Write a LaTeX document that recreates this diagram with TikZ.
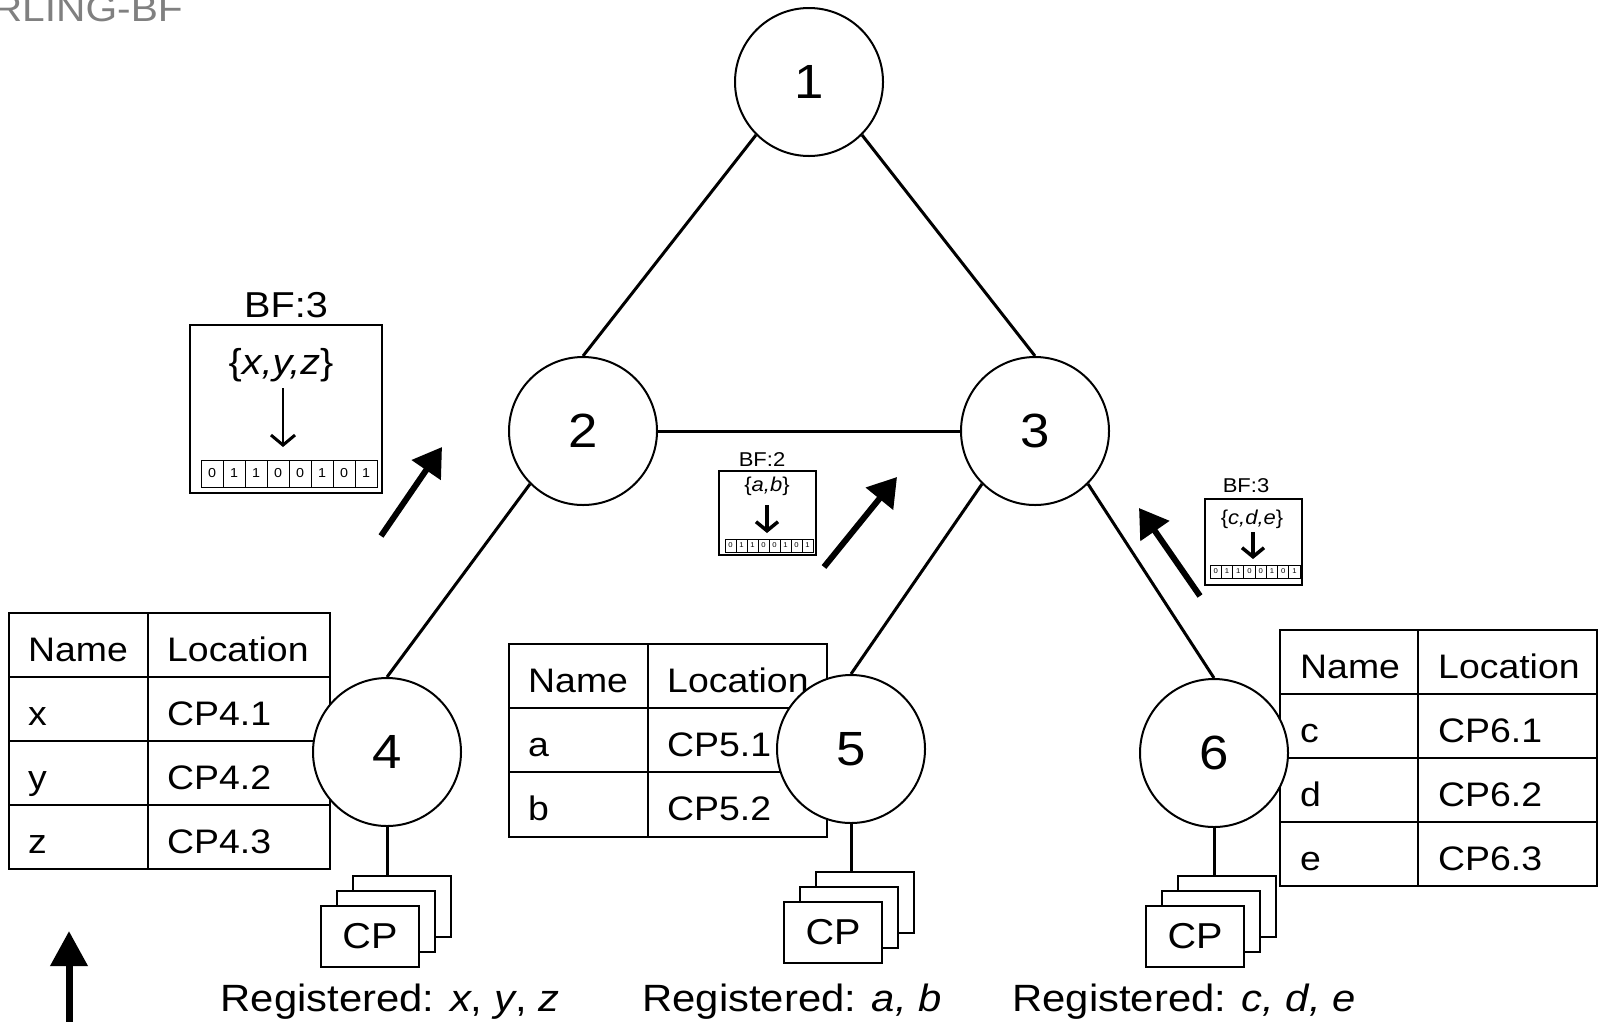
\documentclass[tikz,border=0pt]{standalone}
\usepackage{fontspec}
\setmainfont{Liberation Sans}[FakeStretch=1.1]
\usetikzlibrary{calc,arrows.meta}
\newcommand{\fs}[1]{\fontsize{#1}{#1}\selectfont}
\tikzset{
  router/.style={circle,draw,fill=white,line width=2pt,minimum size=148pt,inner sep=0pt,font=\fs{48}},
  link/.style={line width=3pt},
  tab/.style={line width=2.7pt},
  cell/.style={anchor=base west,inner sep=0pt,font=\fs{34}},
  cpbox/.style={draw,fill=white,line width=1.8pt,minimum width=98pt,minimum height=61pt,inner sep=0pt,font=\fs{36}},
  bfbox/.style={draw,fill=white,line width=2.2pt,inner sep=0pt},
  bit/.style={draw,line width=0.8pt,inner sep=0pt},
  push/.style={line width=6pt,-{Triangle[length=28pt,width=34pt]}},
  hash/.style={-{Straight Barb[length=9pt,width=22pt,line width=3.5pt]}},
}
\begin{document}
\begin{tikzpicture}[x=1pt,y=-1pt]
 \useasboundingbox (0,0) rectangle (1602,1021);
 \clip (0,0) rectangle (1602,1021);
 \node[anchor=base east,inner sep=0pt,text=black!50,font=\fs{37}] (title) at (183,21) {RLING-BF};
 %
 % name tables
 \draw[tab] (9,613) rectangle (330,869) (148,613) -- (148,869);
 \foreach \y in {677,741,805} \draw[tab] (9,\y) -- (330,\y);
 \node[cell] (t4n) at (28,661) {Name};
 \node[cell] (t4l) at (167,661) {Location};
 \foreach \nm/\loc [count=\i] in {x/CP4.1,y/CP4.2,z/CP4.3} {
   \node[cell] (t4n\i) at (28,661+64*\i) {\nm};
   \node[cell] (t4l\i) at (167,661+64*\i) {\loc};
 }
 \draw[tab] (509,644) rectangle (827,837) (648,644) -- (648,837);
 \foreach \y in {708,772} \draw[tab] (509,\y) -- (827,\y);
 \node[cell] (t5n) at (528,692) {Name};
 \node[cell] (t5l) at (667,692) {Location};
 \foreach \nm/\loc [count=\i] in {a/CP5.1,b/CP5.2} {
   \node[cell] (t5n\i) at (528,692+64*\i) {\nm};
   \node[cell] (t5l\i) at (667,692+64*\i) {\loc};
 }
 \draw[tab] (1280,630) rectangle (1597,886) (1418,630) -- (1418,886);
 \foreach \y in {694,758,822} \draw[tab] (1280,\y) -- (1597,\y);
 \node[cell] (t6n) at (1300,678) {Name};
 \node[cell] (t6l) at (1438,678) {Location};
 \foreach \nm/\loc [count=\i] in {c/CP6.1,d/CP6.2,e/CP6.3} {
   \node[cell] (t6n\i) at (1300,678+64*\i) {\nm};
   \node[cell] (t6l\i) at (1438,678+64*\i) {\loc};
 }
 %
 % routers
 \node[router] (n1) at (809,82) {1};
 \node[router] (n2) at (583,431) {2};
 \node[router] (n3) at (1035,431) {3};
 \node[router] (n4) at (387,752) {4};
 \node[router] (n5) at (851,749) {5};
 \node[router] (n6) at (1214,753) {6};
 \draw[link] (n1.-135) -- (n2.north);
 \draw[link] (n1.-45) -- (n3.north);
 \draw[link] (n2.east) -- (n3.west);
 \draw[link] (n2.-135) -- (n4.north);
 \draw[link] (n3.-135) -- (n5.north);
 \draw[link] (n3.-45) -- (n6.north);
 %
 % content providers
 \foreach \v/\px/\py in {4/370/936.5,5/833/932.5,6/1195/936.5} {
   \node[cpbox] (cp\v c) at ($(\px,\py)+(32,-30)$) {};
   \node[cpbox] (cp\v b) at ($(\px,\py)+(16,-15)$) {};
   \node[cpbox] (cp\v) at (\px,\py) {CP};
   \draw[link] (n\v.south) -- (n\v.south |- cp\v c.north);
 }
 \node[anchor=base,inner sep=0pt,font=\fs{38}] (reg4) at (390,1011) {Registered: \textit{x}, \textit{y}, \textit{z}};
 \node[anchor=base,inner sep=0pt,font=\fs{38}] (reg5) at (792,1011) {Registered: \textit{a, b}};
 \node[anchor=base,inner sep=0pt,font=\fs{38}] (reg6) at (1184,1011) {Registered: \textit{c, d, e}};
 %
 % bloom filters
 \node[bfbox,minimum width=192pt,minimum height=168pt] (bf4) at (286,409) {};
 \node[anchor=base,inner sep=0pt,font=\fs{36}] (bf4t) at (286,317) {BF:3};
 \node[anchor=base,inner sep=0pt,font=\fs{36}] (bf4s) at (281,374) {\{\textit{x,y,z}\}};
 \coordinate (h4s) at (283,388);
 \coordinate (h4e) at (283,447);
 \draw[line width=2pt,-{Straight Barb[length=10pt,width=24pt,line width=3pt]}] (h4s) -- (h4e);
 \foreach \b [count=\i] in {0,1,1,0,0,1,0,1}
   \node[bit,minimum width=22pt,minimum height=27pt,font=\fs{13}] (bit4\i) at (190+22*\i,473.5) {\b};
 %
 \node[bfbox,minimum width=97pt,minimum height=84pt] (bf5) at (767.5,513) {};
 \node[anchor=base,inner sep=0pt,font=\fs{20}] (bf5t) at (762,466) {BF:2};
 \node[anchor=base,inner sep=0pt,font=\fs{20}] (bf5s) at (767,491) {\{\textit{a,b}\}};
 \coordinate (h5s) at (767,505);
 \coordinate (h5e) at (767,533);
 \draw[hash,line width=3.5pt] (h5s) -- (h5e);
 \foreach \b [count=\i] in {0,1,1,0,0,1,0,1}
   \node[bit,minimum width=11pt,minimum height=13pt,font=\fs{7}] (bit5\i) at (719.5+11*\i,545.5) {\b};
 %
 \node[bfbox,minimum width=97pt,minimum height=86pt] (bf6) at (1253.5,542) {};
 \node[anchor=base,inner sep=0pt,font=\fs{20}] (bf6t) at (1246,492) {BF:3};
 \node[anchor=base,inner sep=0pt,font=\fs{20}] (bf6s) at (1252,524) {\{\textit{c,d,e}\}};
 \coordinate (h6s) at (1253,532);
 \coordinate (h6e) at (1253,559);
 \draw[hash,line width=3.5pt] (h6s) -- (h6e);
 \foreach \b [count=\i] in {0,1,1,0,0,1,0,1}
   \node[bit,minimum width=11.25pt,minimum height=13pt,font=\fs{7}] (bit6\i) at (1204.4+11.25*\i,571.5) {\b};
 %
 % forwarding arrows
 \coordinate (a4s) at (381,536);
 \coordinate (a4e) at (442,447);
 \coordinate (a5s) at (824,567);
 \coordinate (a5e) at (897,477);
 \coordinate (a6s) at (1200,596);
 \coordinate (a6e) at (1139,508);
 \draw[push] (a4s) -- (a4e);
 \draw[push] (a5s) -- (a5e);
 \draw[push] (a6s) -- (a6e);
 \coordinate (up0) at (69,1040);
 \coordinate (up1) at (69,931);
 \draw[line width=7pt,-{Triangle[length=35pt,width=36pt]}] (up0) -- (up1);
\end{tikzpicture}
\end{document}
